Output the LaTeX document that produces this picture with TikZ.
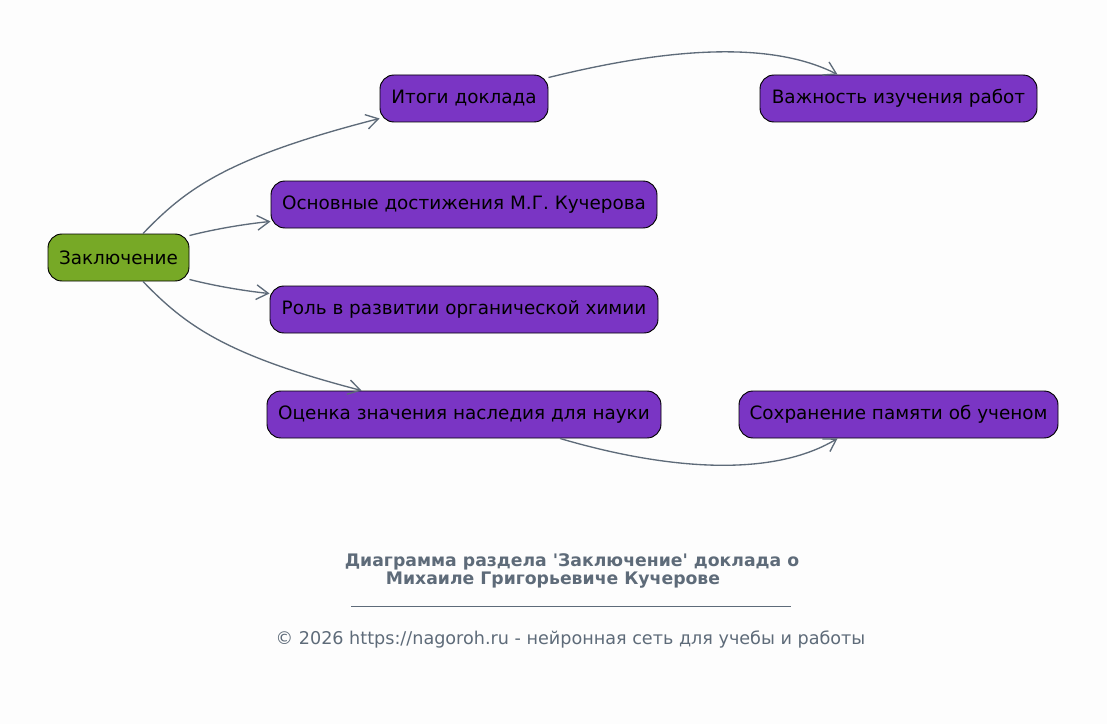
\documentclass[tikz,border=0pt]{standalone}
\usepackage{fontspec}
\setmainfont{DejaVu Sans}[Ligatures=TeXOff]
\usetikzlibrary{arrows.meta,calc}
\definecolor{bgcol}{HTML}{FDFDFD}
\definecolor{leafcol}{HTML}{7A35C4}
\definecolor{rootcol}{HTML}{77A926}
\definecolor{edgecol}{HTML}{5E6B79}

\begin{document}
\begin{tikzpicture}[x=0.75pt,y=-0.75pt,
    box/.style={draw=black,line width=0.7pt,rounded corners=10.5pt,minimum height=35.25pt,
      inner sep=0pt,font=\fontsize{13.8}{16}\selectfont,text=black},
    rootbox/.style={box,fill=rootcol},
    leafbox/.style={box,fill=leafcol},
    link/.style={draw=edgecol,line width=1pt,-{Straight Barb[length=9pt,width=11pt]}}]
  % fond
  \fill[bgcol] (0,0) rectangle (1107,724);
  \useasboundingbox (0,0) rectangle (1107,724);

  % noeuds
  \node[rootbox,minimum width=105.75pt] (zakl) at (118.5,257.5) {Заключение};
  \node[leafbox,minimum width=126pt] (itogi) at (464,98.5) {Итоги доклада};
  \node[leafbox,minimum width=207.75pt] (vazhn) at (898.5,98.5) {Важность изучения работ};
  \node[leafbox,minimum width=289.5pt] (osnov) at (464,204.5) {Основные достижения М.Г. Кучерова};
  \node[leafbox,minimum width=291pt] (rol) at (464,309.5) {Роль в развитии органической химии};
  \node[leafbox,minimum width=295.5pt] (ocenka) at (464,414.5) {Оценка значения наследия для науки};
  \node[leafbox,minimum width=239.25pt] (sohr) at (898.5,414.5) {Сохранение памяти об ученом};

  % flèches
  \draw[link] ($(zakl.north)+(24.5,0)$) .. controls (185,190) and (225,158) .. ($(itogi.south west)+(0,-4)$);
  \draw[link] ($(zakl.north east)+(0,2)$) .. controls (215,229) and (245,224) .. ($(osnov.south west)+(0,-7)$);
  \draw[link] ($(zakl.south east)+(0,-2)$) .. controls (215,286) and (245,291) .. ($(rol.north west)+(0,8)$);
  \draw[link] ($(zakl.south)+(24.5,0)$) .. controls (185,325) and (225,355) .. ($(ocenka.north west)+(95,0)$);
  \draw[link] ($(itogi.north east)+(0,3)$) .. controls (640,55) and (760,35) .. ($(vazhn.north west)+(78,0)$);
  \draw[link] ($(ocenka.south)+(96,0)$) .. controls (650,465) and (765,482) .. ($(sohr.south west)+(99,0)$);

  % légende
  \node[text=edgecol,font=\fontsize{12.95}{14}\selectfont\bfseries,align=center] (titre) at (572,571)
    {Диаграмма раздела 'Заключение' доклада о\\Михаиле Григорьевиче Кучерове\hspace*{28.5pt}};
  \coordinate (traitg) at (351,606);
  \coordinate (traitd) at (791,606);
  \draw[edgecol,line width=0.7pt] (traitg) -- (traitd);
  \node[text=edgecol,font=\fontsize{13.2}{15}\selectfont] (pied) at (570.5,639)
    {© 2026 https://nagoroh.ru - нейронная сеть для учебы и работы};
\end{tikzpicture}
\end{document}
